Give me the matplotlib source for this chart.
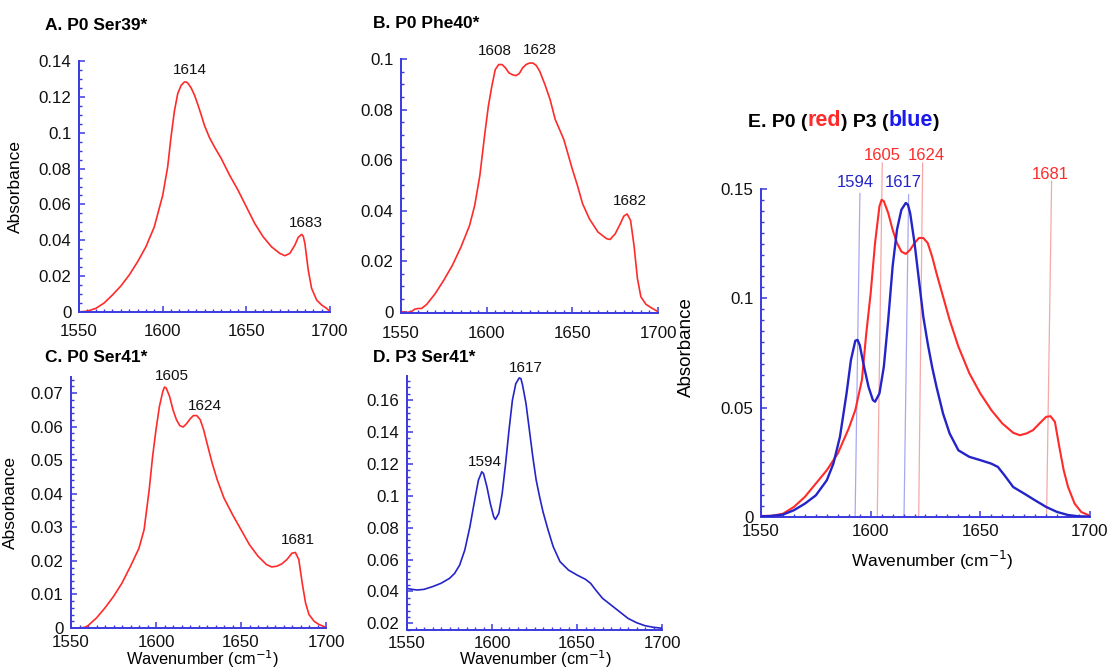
import numpy as np
import matplotlib
matplotlib.use("Agg")
import matplotlib.pyplot as plt
from matplotlib.ticker import MultipleLocator, FuncFormatter

plt.rcParams['font.family'] = ['Liberation Sans', 'DejaVu Sans']

# ----------------------- Spectra (wavenumber, absorbance) ------------------------

wn_a = [1550, 1555, 1560, 1565, 1570, 1575, 1580, 1585, 1590, 1595, 1600, 1603, 1605, 1607,
        1609, 1611, 1613, 1614, 1615, 1617, 1619, 1621, 1623, 1625, 1628, 1631, 1635, 1640,
        1645, 1650, 1655, 1660, 1665, 1670, 1673, 1676, 1679, 1681, 1683, 1684, 1685, 1687,
        1689, 1692, 1695, 1698, 1700]
abs_a = [0.0, 0.0005, 0.002, 0.005, 0.0095, 0.0145, 0.0206, 0.028, 0.0364, 0.0475, 0.065,
         0.081, 0.0977, 0.112, 0.1218, 0.1264, 0.1283, 0.1283, 0.1277, 0.125, 0.121, 0.1158,
         0.1100, 0.1040, 0.0972, 0.0920, 0.0856, 0.0763, 0.068, 0.0587, 0.0494, 0.042, 0.0364,
         0.0327, 0.0314, 0.0327, 0.0373, 0.0416, 0.0433, 0.0423, 0.0382, 0.0234, 0.0132,
         0.0067, 0.0039, 0.002, 0.0002]

wn_b = [1550, 1553, 1556, 1558, 1560, 1562, 1565, 1570, 1575, 1580, 1585, 1590, 1593, 1596,
        1599, 1601, 1603, 1605, 1607, 1609, 1611, 1613, 1615, 1617, 1619, 1621, 1623, 1625,
        1627, 1629, 1631, 1634, 1637, 1640, 1645, 1650, 1653, 1656, 1660, 1665, 1670, 1672,
        1675, 1678, 1680, 1682, 1684, 1686, 1688, 1690, 1693, 1696, 1700]
abs_b = [0.0, -0.0003, 0.0, 0.001, 0.0013, 0.0013, 0.0029, 0.0072, 0.0125, 0.0184, 0.0256,
         0.0341, 0.042, 0.0538, 0.0709, 0.0814, 0.0892, 0.0958, 0.0978, 0.0978, 0.0965, 0.0945,
         0.0938, 0.0934, 0.0942, 0.0965, 0.0978, 0.0984, 0.0984, 0.0974, 0.0951, 0.0899, 0.084,
         0.0761, 0.0682, 0.0564, 0.0499, 0.0427, 0.0367, 0.0315, 0.0289, 0.0286, 0.0308, 0.0348,
         0.0378, 0.0387, 0.0361, 0.0262, 0.0131, 0.0059, 0.0029, 0.0016, 0.0]

wn_c = [1550, 1555, 1558, 1560, 1565, 1570, 1575, 1580, 1585, 1590, 1593, 1596, 1598, 1600,
        1602, 1604, 1605, 1606, 1608, 1610, 1612, 1614, 1616, 1618, 1620, 1622, 1624, 1626,
        1628, 1630, 1633, 1636, 1640, 1645, 1650, 1655, 1660, 1665, 1668, 1671, 1674, 1677,
        1680, 1682, 1684, 1686, 1688, 1690, 1693, 1696, 1700]
abs_c = [0.0, 0.0, 0.0002, 0.0007, 0.003, 0.006, 0.0094, 0.0134, 0.0184, 0.0238, 0.0293,
         0.0412, 0.0511, 0.0591, 0.066, 0.0705, 0.0718, 0.0715, 0.069, 0.065, 0.0621, 0.0603,
         0.0599, 0.0609, 0.0623, 0.0633, 0.0633, 0.0621, 0.0591, 0.0551, 0.0492, 0.0442, 0.0387,
         0.0338, 0.0293, 0.0248, 0.0214, 0.0189, 0.0182, 0.0184, 0.0191, 0.0204, 0.0223, 0.0225,
         0.0204, 0.0134, 0.0074, 0.004, 0.002, 0.001, 0.0002]

wn_d = [1550, 1553, 1556, 1560, 1565, 1570, 1575, 1578, 1581, 1584, 1587, 1590, 1592, 1594,
        1595, 1597, 1599, 1601, 1602, 1604, 1606, 1608, 1610, 1612, 1614, 1616, 1617, 1618,
        1620, 1622, 1624, 1626, 1628, 1630, 1633, 1636, 1640, 1645, 1650, 1655, 1658, 1661,
        1665, 1670, 1675, 1680, 1685, 1690, 1695, 1700]
abs_d = [0.0419, 0.0413, 0.0409, 0.0413, 0.043, 0.0451, 0.0482, 0.0513, 0.0566, 0.066, 0.0806,
         0.0984, 0.1098, 0.1151, 0.114, 0.1057, 0.0952, 0.0869, 0.0852, 0.089, 0.1015, 0.1203,
         0.1412, 0.16, 0.1704, 0.174, 0.1736, 0.1694, 0.1579, 0.1412, 0.1245, 0.1098, 0.0994,
         0.09, 0.0785, 0.0681, 0.0587, 0.0534, 0.0503, 0.0476, 0.0451, 0.0409, 0.0357, 0.0315,
         0.0273, 0.0231, 0.0204, 0.0185, 0.0175, 0.0169]

# overlay panel: P0 (red) and P3 (blue)
wn_e_p0 = [1550, 1555, 1560, 1565, 1570, 1575, 1580, 1585, 1590, 1593, 1596, 1598, 1600, 1602,
           1604, 1605, 1606, 1608, 1610, 1612, 1614, 1616, 1618, 1620, 1622, 1624, 1626, 1628,
           1630, 1633, 1636, 1640, 1645, 1650, 1655, 1660, 1665, 1668, 1671, 1674, 1677, 1680,
           1682, 1684, 1686, 1688, 1690, 1693, 1696, 1700]
abs_e_p0 = [0.0005, 0.0005, 0.0015, 0.0046, 0.0092, 0.0153, 0.0214, 0.029, 0.0405, 0.0489,
            0.0626, 0.084, 0.1023, 0.1253, 0.1421, 0.1451, 0.1444, 0.139, 0.1314, 0.1253, 0.1214,
            0.1203, 0.1222, 0.1253, 0.1276, 0.1276, 0.1253, 0.1192, 0.1115, 0.1008, 0.0901,
            0.0779, 0.0657, 0.0565, 0.0489, 0.0428, 0.0385, 0.0374, 0.0382, 0.0397, 0.0428,
            0.0458, 0.0461, 0.0435, 0.0321, 0.0214, 0.0137, 0.0061, 0.0023, 0.0005]

wn_e_p3 = [1550, 1555, 1560, 1565, 1570, 1575, 1580, 1583, 1586, 1589, 1591, 1593, 1594, 1595,
           1597, 1599, 1601, 1602, 1604, 1606, 1608, 1610, 1612, 1614, 1616, 1617, 1618, 1620,
           1622, 1624, 1626, 1628, 1630, 1633, 1636, 1640, 1645, 1650, 1655, 1658, 1661, 1665,
           1670, 1675, 1680, 1685, 1690, 1695, 1700]
abs_e_p3 = [0.0003, 0.0005, 0.0011, 0.0031, 0.0061, 0.0099, 0.0168, 0.0244, 0.0367, 0.0565,
            0.0718, 0.0806, 0.081, 0.0787, 0.0687, 0.0596, 0.0535, 0.0527, 0.0565, 0.0687,
            0.0901, 0.1145, 0.1314, 0.1405, 0.1436, 0.1428, 0.139, 0.1253, 0.1084, 0.0916,
            0.0794, 0.0687, 0.0596, 0.0473, 0.0382, 0.0305, 0.0275, 0.026, 0.0244, 0.0229,
            0.0191, 0.0137, 0.0107, 0.0076, 0.0046, 0.0023, 0.0009, 0.0003, 0.0002]

# ----------------------- Peak labels (text, x, y) ------------------------

peaks_a = [("1614", 1616.3, 0.1348), ("1683", 1685.5, 0.0497)]
peaks_b = [("1608", 1604.8, 0.1030), ("1628", 1631.1, 0.1037), ("1682", 1683.8, 0.0437)]
peaks_c = [("1605", 1609.4, 0.0750), ("1624", 1629.0, 0.0662), ("1681", 1683.5, 0.0261)]
peaks_d = [("1617", 1619.6, 0.1805), ("1594", 1595.6, 0.1213)]

# overlay labels with guide lines down to the baseline
e_labels = ["1594", "1605", "1617", "1624", "1681"]
e_label_x = [1593.0, 1605.3, 1615.0, 1625.5, 1681.8]
e_label_y = [0.1529, 0.1653, 0.1529, 0.1653, 0.1567]
e_guide_top_x = [1595.1, 1605.3, 1617.3, 1623.7, 1682.5]
e_guide_bot_x = [1592.9, 1603.0, 1615.2, 1621.9, 1680.2]
e_guide_top_y = [0.1480, 0.1619, 0.1474, 0.1619, 0.1535]
e_series = ["P3", "P0", "P3", "P0", "P0"]

RED = "#ff2a2a"
BLUE = "#2424c8"
AXIS_BLUE = "#3a3ae0"
series_color = {"P0": RED, "P3": BLUE}
guide_color = {"P0": "#f5a8a8", "P3": "#a8a8f2"}

W, H = 1109, 668
fig = plt.figure(figsize=(W / 100, H / 100), dpi=100)


def box(left, top, right, bottom):
    # pixel box -> figure fraction
    return [left / W, 1 - bottom / H, (right - left) / W, (bottom - top) / H]


def style_axes(ax, ylim, ymajor, yminor, xpad):
    ax.set_xlim(1550, 1700)
    ax.set_ylim(*ylim)
    for s in ("top", "right"):
        ax.spines[s].set_visible(False)
    for s in ("left", "bottom"):
        ax.spines[s].set_color(AXIS_BLUE)
        ax.spines[s].set_linewidth(1.4)
    ax.xaxis.set_major_locator(MultipleLocator(50))
    ax.xaxis.set_minor_locator(MultipleLocator(5))
    ax.yaxis.set_major_locator(MultipleLocator(ymajor))
    ax.yaxis.set_minor_locator(MultipleLocator(yminor))
    ax.yaxis.set_major_formatter(FuncFormatter(lambda v, p: f"{v:g}"))
    ax.tick_params(which="both", direction="in", color=AXIS_BLUE, labelsize=12.2,
                   labelcolor="#111111", top=False, right=False)
    ax.tick_params(which="major", length=4.5, width=1.1)
    ax.tick_params(which="minor", length=2.5, width=1.0)
    ax.tick_params(axis="y", which="major", pad=5.5)
    ax.tick_params(axis="x", which="major", pad=xpad)
    ax.patch.set_alpha(0)


def add_peaks(ax, peaks, color="#111111", size=11):
    for txt, x, y in peaks:
        ax.text(x, y, txt, ha="center", va="center", fontsize=size, color=color,
                clip_on=False)


# ----------------------- Panels A-D ------------------------

ax_a = fig.add_axes(box(79, 61, 330, 312))
ax_a.plot(wn_a, abs_a, color=RED, lw=1.2)
style_axes(ax_a, (0, 0.14), 0.02, 0.005, 9)
add_peaks(ax_a, peaks_a)
ax_a.set_ylabel("Absorbance", fontsize=12.5)
ax_a.yaxis.set_label_coords(-0.223, 0.5)

ax_b = fig.add_axes(box(401, 59, 658, 313))
ax_b.plot(wn_b, abs_b, color=RED, lw=1.2)
style_axes(ax_b, (-0.0005, 0.1), 0.02, 0.005, 9)
add_peaks(ax_b, peaks_b)

ax_c = fig.add_axes(box(71, 377, 326, 628))
ax_c.plot(wn_c, abs_c, color=RED, lw=1.2)
style_axes(ax_c, (0, 0.0748), 0.01, 0.002, 5)
add_peaks(ax_c, peaks_c)
ax_c.set_ylabel("Absorbance", fontsize=12.5)
ax_c.yaxis.set_label_coords(-0.208, 0.5)

ax_d = fig.add_axes(box(407, 376, 662, 630))
ax_d.plot(wn_d, abs_d, color=BLUE, lw=1.2)
style_axes(ax_d, (0.0158, 0.1752), 0.02, 0.004, 4)
add_peaks(ax_d, peaks_d)

for ax, cx, cy in ((ax_c, 0.516, -0.123), (ax_d, 0.506, -0.115)):
    ax.set_xlabel("Wavenumber (cm$^{-1}$)", fontsize=11.8)
    ax.xaxis.set_label_coords(cx, cy)
    ax.xaxis.label.set_va("center")

# ----------------------- Panel E: overlay ------------------------

ax_e = fig.add_axes(box(761, 189, 1090, 517))
for i in range(len(e_labels)):
    s = e_series[i]
    ax_e.plot([e_guide_top_x[i], e_guide_bot_x[i]], [e_guide_top_y[i], 0],
              color=guide_color[s], lw=0.9, clip_on=False, zorder=1)
    ax_e.text(e_label_x[i], e_label_y[i], e_labels[i], ha="center", va="center",
              fontsize=12, color=series_color[s], clip_on=False)
ax_e.plot(wn_e_p0, abs_e_p0, color=RED, lw=1.5, zorder=3)
ax_e.plot(wn_e_p3, abs_e_p3, color=BLUE, lw=1.7, zorder=3)
style_axes(ax_e, (0, 0.15), 0.05, 0.005, 5)
ax_e.set_ylabel("Absorbance", fontsize=13.5)
ax_e.yaxis.set_label_coords(-0.2, 0.517)
ax_e.set_xlabel("Wavenumber (cm$^{-1}$)", fontsize=12.5)
ax_e.xaxis.set_label_coords(0.519, -0.131)
ax_e.xaxis.label.set_va("center")

# ----------------------- Panel titles ------------------------

titles = [("A. P0 Ser39*", 45, 25), ("B. P0 Phe40*", 373, 24),
          ("C. P0 Ser41*", 45, 357), ("D. P3 Ser41*", 373, 358)]
for txt, px, py in titles:
    fig.text(px / W, 1 - py / H, txt, fontsize=12.5, fontweight="bold",
             ha="left", va="center")

# coloured title for the overlay, each piece anchored to the end of the previous one
parts = [("E. P0 (", "black", 14), ("red", RED, 15.5), (") P3 (", "black", 14),
         ("blue", "#1a1aee", 15.5), (")", "black", 14)]
prev = fig.text(748 / W, 1 - 131 / H, parts[0][0], color=parts[0][1], fontsize=parts[0][2],
                fontweight="bold", ha="left", va="bottom")
for txt, col, fs in parts[1:]:
    prev = ax_e.annotate(txt, xy=(1, 0), xycoords=prev, color=col, fontsize=fs,
                         fontweight="bold", ha="left", va="bottom", annotation_clip=False)

fig.savefig("out.png", dpi=100)
